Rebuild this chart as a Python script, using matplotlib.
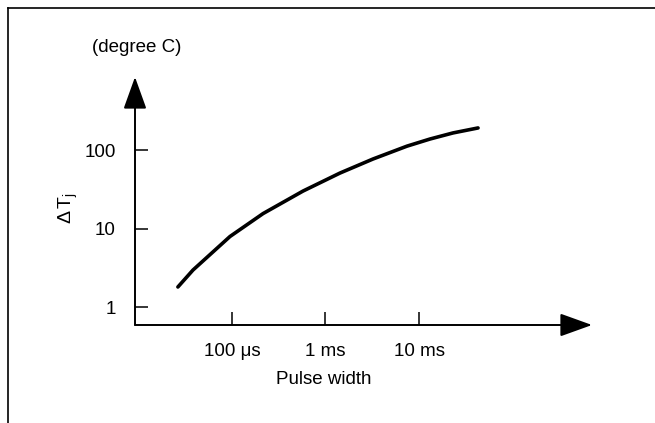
import matplotlib.pyplot as plt
from matplotlib.lines import Line2D

plt.rcParams['font.family'] = ['Liberation Sans', 'DejaVu Sans']
plt.rcParams['mathtext.fontset'] = 'custom'
plt.rcParams['mathtext.rm'] = 'Liberation Sans'
plt.rcParams['mathtext.it'] = 'Liberation Sans'

# pulse width (s) vs junction temperature rise (degree C)
pulse_width = [2.64e-5, 3.83e-5, 9.52e-5, 2.15e-4, 5.75e-4, 1.43e-3,
               3.22e-3, 7.44e-3, 1.31e-2, 2.31e-2, 4.28e-2]
delta_tj = [1.80, 2.96, 7.91, 15.5, 30.0, 50.9, 76.8, 112, 138, 165, 191]

x_ticks = [1e-4, 1e-3, 1e-2]
x_labels = ["100 μs", "1 ms", "10 ms"]
y_ticks = [1, 10, 100]
y_labels = ["1", "10", "100"]

W, H = 655, 423
fig = plt.figure(figsize=(W / 100, H / 100), dpi=100)

# axes box in pixels: y axis at x=135, x axis at y=325, arrows end at 592 / 77
left, right, top, bottom = 135, 592, 77, 325
ax = fig.add_axes([left / W, 1 - bottom / H, (right - left) / W, (bottom - top) / H])
ax.set_xscale('log')
ax.set_yscale('log')
ax.set_xlim(10 ** -5.037, 10 ** -0.150)
ax.set_ylim(10 ** -0.229, 10 ** 2.930)

ax.plot(pulse_width, delta_tj, color='black', lw=2.6, solid_capstyle='round',
        solid_joinstyle='round')

for s in ax.spines.values():
    s.set_visible(False)

ax.minorticks_off()
ax.set_xticks(x_ticks)
ax.set_xticklabels(x_labels, fontsize=13.5)
ax.set_yticks(y_ticks)
ax.set_yticklabels(y_labels, fontsize=13.5)
ax.tick_params(axis='both', direction='in', length=9.5, width=1.1, color='black')
ax.tick_params(axis='x', pad=13)
ax.tick_params(axis='y', pad=14)

arrow = dict(arrowstyle='-|>,head_length=1.0,head_width=0.36', mutation_scale=20,
             lw=1.4, color='black', shrinkA=0, shrinkB=0)
ax.annotate('', xy=(1, 0), xytext=(0, 0), xycoords='axes fraction', arrowprops=arrow)
ax.annotate('', xy=(0, 1), xytext=(0, 0), xycoords='axes fraction', arrowprops=arrow)

fig.text(137 / W, 1 - 48 / H, "(degree C)", ha='center', va='center', fontsize=13.5)
fig.text(68 / W, 1 - 208 / H, r"$\Delta\,\mathrm{T}_{\mathrm{j}}$", ha='center', va='center',
         fontsize=14, rotation=90)
fig.text(324 / W, 1 - 379 / H, "Pulse width", ha='center', va='center', fontsize=13.5)

# outer frame: top and left edges only
fig.add_artist(Line2D([8 / W, 8 / W], [0, 1 - 8 / H], color='black', lw=1.2))
fig.add_artist(Line2D([8 / W, 1], [1 - 8 / H, 1 - 8 / H], color='black', lw=1.2))

fig.savefig('out.png', dpi=100)
